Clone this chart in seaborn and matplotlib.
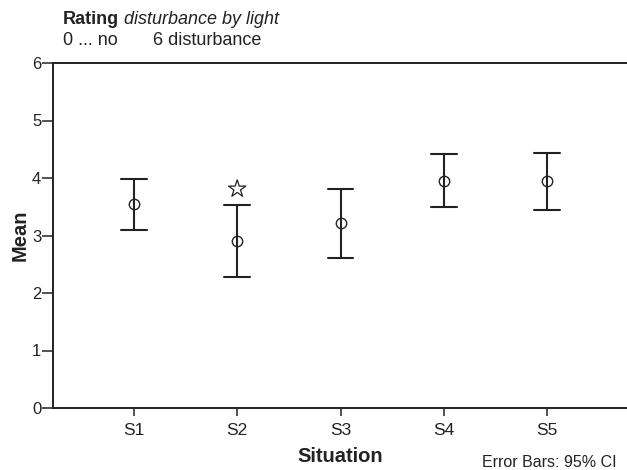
import numpy as np
import pandas as pd
import matplotlib
matplotlib.use("Agg")
import matplotlib.pyplot as plt
import seaborn as sns

# Mean rating per situation with the 95% confidence interval bounds
situations = ["S1", "S2", "S3", "S4", "S5"]
means = [3.54, 2.90, 3.21, 3.95, 3.94]
ci_low = [3.09, 2.27, 2.61, 3.50, 3.44]
ci_high = [3.99, 3.53, 3.81, 4.42, 4.44]
# Situation flagged with a star marker above its interval
star_situation = ["S2"]
star_value = [3.81]
y_ticks = [0, 1, 2, 3, 4, 5, 6]

sns.set_theme(style="white")
plt.rcParams["font.family"] = ["Liberation Sans", "DejaVu Sans"]

# Long-form table: each situation holds its lower bound, mean and upper bound;
# the median gives the mean and the min/max give the interval.
rows = []
for s, lo, m, hi in zip(situations, ci_low, means, ci_high):
    for v in (lo, m, hi):
        rows.append({"Situation": s, "Mean": v})
df = pd.DataFrame(rows)

ink = "#222222"

fig = plt.figure(figsize=(6.27, 4.70), dpi=100)
ax = fig.add_axes([53 / 627, 1 - 408 / 470, 1 - 53 / 627, (408 - 63) / 470])

sns.pointplot(
    data=df, x="Situation", y="Mean", order=situations,
    estimator=np.median,
    errorbar=lambda v: (np.min(v), np.max(v)),
    capsize=0.25, linestyle="none", color=ink,
    marker="o", markersize=7.5, markerfacecolor="none",
    markeredgecolor=ink, markeredgewidth=1.0,
    err_kws={"linewidth": 1.5},
    ax=ax,
)

star_df = pd.DataFrame({"Situation": star_situation, "Mean": star_value})
sns.scatterplot(
    data=star_df, x="Situation", y="Mean", marker="*", s=170,
    facecolor="none", edgecolor=ink, linewidth=0.9, ax=ax, zorder=5,
)

ax.set_xlim(-0.783, 4.773)
ax.set_ylim(0, 6)
ax.set_yticks(y_ticks)
ax.set_yticklabels([str(t) for t in y_ticks])

for side in ("left", "top", "bottom"):
    ax.spines[side].set_visible(True)
    ax.spines[side].set_color(ink)
    ax.spines[side].set_linewidth(1.4)
ax.spines["right"].set_visible(False)

ax.tick_params(axis="y", which="major", direction="out", length=8, width=1.1,
               color=ink, labelsize=12, labelcolor=ink, pad=0.5, left=True)
ax.tick_params(axis="x", which="major", direction="out", length=6, width=1.1,
               color=ink, labelsize=12.5, labelcolor=ink, pad=5, bottom=True)

ax.set_xlabel("Situation", fontsize=14.5, fontweight="bold", color=ink, labelpad=6)
ax.set_ylabel("Mean", fontsize=14.5, fontweight="bold", color=ink, labelpad=1.5)

# Header describing the rating scale
t1 = fig.text(63 / 627, 1 - 24 / 470, "Rating", fontsize=13, fontweight="bold",
              color=ink, va="baseline", ha="left")
ax.annotate(" disturbance by light", xy=(1, 0), xycoords=t1, fontsize=13,
            fontstyle="italic", color=ink, va="bottom", ha="left",
            annotation_clip=False)
fig.text(63 / 627, 1 - 45 / 470, "0 ... no", fontsize=13, color=ink,
         va="baseline", ha="left")
fig.text(153 / 627, 1 - 45 / 470, "6 disturbance", fontsize=13, color=ink,
         va="baseline", ha="left")

fig.text(617 / 627, 1 - 467 / 470, "Error Bars: 95% CI", fontsize=11.5,
         color=ink, va="baseline", ha="right")

fig.savefig("out.png", dpi=100)
